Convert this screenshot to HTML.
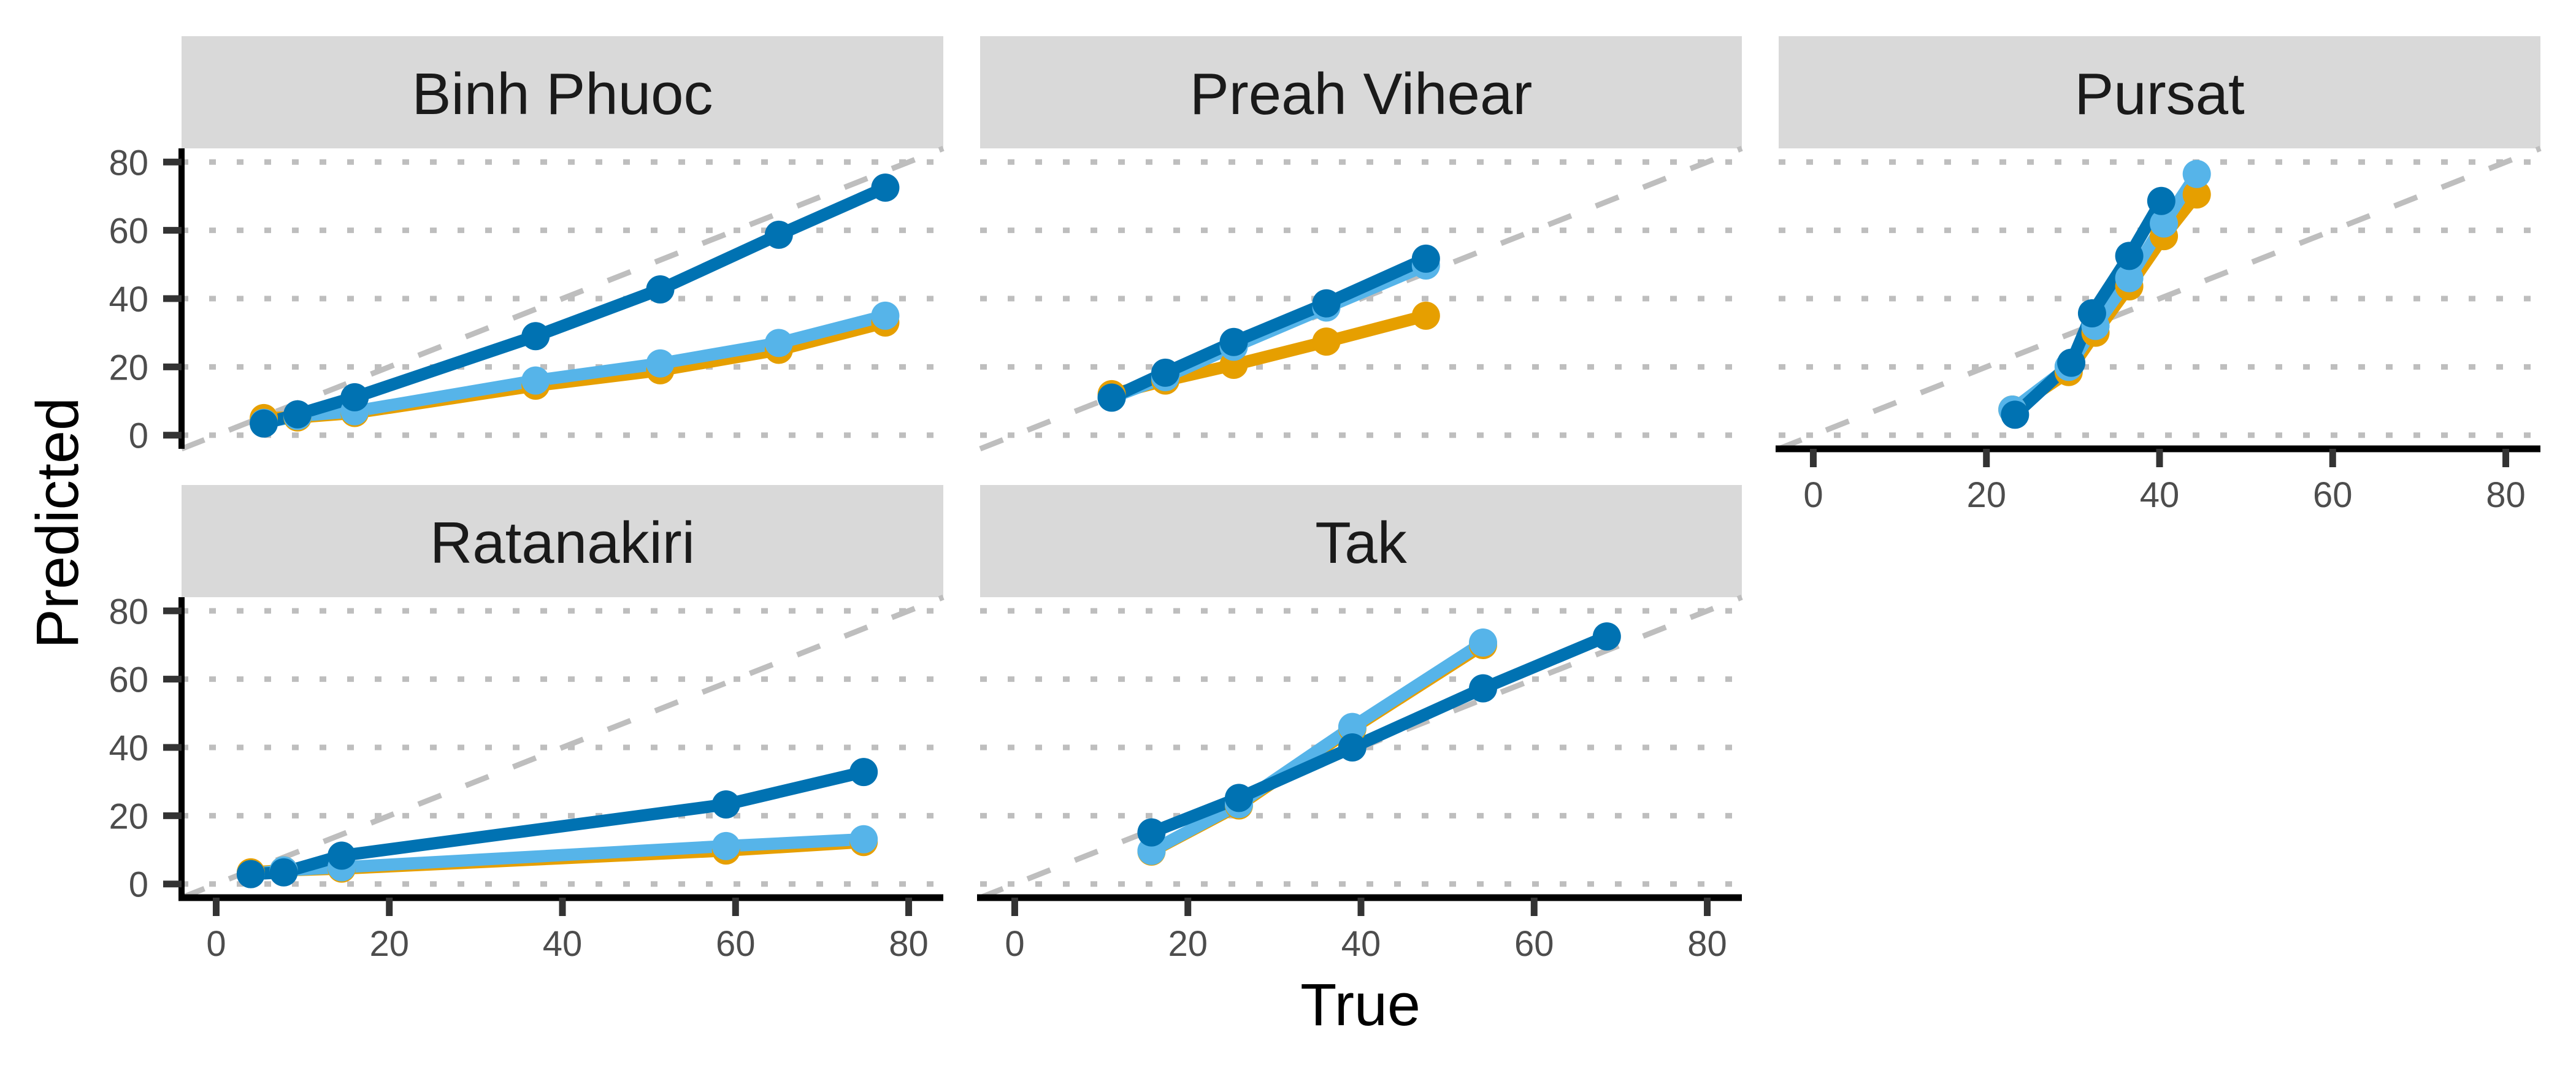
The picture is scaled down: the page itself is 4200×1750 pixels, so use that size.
<!DOCTYPE html>
<html><head><meta charset="utf-8"><style>
html,body{margin:0;padding:0;background:#fff;}
svg{display:block;}
text{font-family:"Liberation Sans",sans-serif;}
</style></head><body>
<svg id="chart" width="4200" height="1750" viewBox="0 0 4200 1750" xmlns="http://www.w3.org/2000/svg">
<rect x="0" y="0" width="4200" height="1750" fill="#fff"/>
<text x="0" y="0" transform="translate(127,853) rotate(-90)" text-anchor="middle" font-size="97" fill="#000">Predicted</text>
<text x="2218" y="1672" text-anchor="middle" font-size="97" fill="#000">True</text>
</svg>
<script>
const tickValues = [0, 20, 40, 60, 80];
const tickLabels = ["0", "20", "40", "60", "80"];
const panelNames = ["Binh Phuoc", "Preah Vihear", "Pursat", "Ratanakiri", "Tak"];
const seriesNames = ["orange", "light-blue", "dark-blue"];

// Binh Phuoc
const bpX = [5.5, 9.4, 16, 36.9, 51.3, 65, 77.3];
const bpOrange = [5, 5.2, 6.5, 14.5, 19, 25, 33];
const bpLight = [3.6, 5.6, 7, 16, 21, 27, 35];
const bpDark = [3.4, 6.1, 11.1, 29, 42.7, 58.7, 72.5];
// Preah Vihear
const pvX = [11.2, 17.4, 25.3, 36, 47.5];
const pvOrange = [12, 16, 20.6, 27.4, 35];
const pvLight = [11, 17, 25.9, 37.4, 49.7];
const pvDark = [11, 18.3, 27.3, 38.6, 51.7];
// Pursat
const puX = [23, 29.5, 32.6, 36.5, 40.5, 44.3];
const puOrange = [7.5, 18.5, 30, 43.6, 58.3, 70.5];
const puLight = [7.5, 20, 32, 46, 62, 76.5];
const puDarkX = [23.3, 29.8, 32.2, 36.5, 40.2];
const puDark = [6, 21.2, 35.7, 52.5, 68.6];
// Ratanakiri
const raX = [4, 7.8, 14.5, 58.9, 74.8];
const raOrange = [3.4, 4, 4.5, 9.8, 12.3];
const raLight = [2.9, 4, 4.9, 11.1, 13.1];
const raDark = [2.9, 3.4, 8.3, 23.3, 32.8];
// Tak
const tkX = [15.8, 25.9, 39, 54.1];
const tkOrange = [9.5, 23, 45.5, 70];
const tkLight = [9.7, 23.4, 46, 70.7];
const tkDarkX = [15.8, 25.9, 39, 54.1, 68.4];
const tkDark = [15.1, 25.2, 40, 57.3, 72.5];

const panelData = [
  {x:[bpX,bpX,bpX], y:[bpOrange,bpLight,bpDark]},
  {x:[pvX,pvX,pvX], y:[pvOrange,pvLight,pvDark]},
  {x:[puX,puX,puDarkX], y:[puOrange,puLight,puDark]},
  {x:[raX,raX,raX], y:[raOrange,raLight,raDark]},
  {x:[tkX,tkX,tkDarkX], y:[tkOrange,tkLight,tkDark]}
];

const NS = "http://www.w3.org/2000/svg";
const svg = document.getElementById("chart");
const colors = ["#E69F00", "#56B4E9", "#0072B2"];
const colLeft = [296, 1598, 2900];
const rowTop = [242, 974];
const PW = 1242, PH = 490, STRIP = 183;
const DMIN = -4, DMAX = 84;
const layout = [[0,0],[0,1],[0,2],[1,0],[1,1]];

function mk(tag, attrs, parent){
  const e = document.createElementNS(NS, tag);
  for (const k in attrs) e.setAttribute(k, attrs[k]);
  (parent || svg).appendChild(e);
  return e;
}

panelNames.forEach((name, i) => {
  const r = layout[i][0], c = layout[i][1];
  const L = colLeft[c], T = rowTop[r];
  const sx = v => L + (v - DMIN) / (DMAX - DMIN) * PW;
  const sy = v => T + PH - (v - DMIN) / (DMAX - DMIN) * PH;
  const slug = name.toLowerCase().replace(/ /g, "-");
  const g = mk("g", {});
  
  

  const strip = mk("rect", {x:L, y:T-STRIP, width:PW, height:STRIP, fill:"#d9d9d9"}, g);
  
  
  const st = mk("text", {x:L+PW/2, y:T-STRIP+127, "text-anchor":"middle", "font-size":96, fill:"#1a1a1a"}, g);
  st.textContent = name;
  
  

  tickValues.forEach(v => {
    const gl = mk("line", {x1:L, x2:L+PW, y1:sy(v), y2:sy(v), stroke:"#bebebe", "stroke-width":9, "stroke-dasharray":"11 34"}, g);
    
    
  });
  const diag = mk("line", {x1:sx(DMIN), y1:sy(DMIN), x2:sx(DMAX), y2:sy(DMAX), stroke:"#bebebe", "stroke-width":9, "stroke-dasharray":"40 43"}, g);
  
  

  const pd = panelData[i];
  for (let s = 0; s < 3; s++) {
    const pts = pd.x[s].map((xv, k) => sx(xv) + "," + sy(pd.y[s][k])).join(" ");
    const pl = mk("polyline", {points:pts, fill:"none", stroke:colors[s], "stroke-width":20, "stroke-linejoin":"round"}, g);
    
    
  }
  for (let s = 0; s < 3; s++) {
    pd.x[s].forEach((xv, k) => {
      const ci = mk("circle", {cx:sx(xv), cy:sy(pd.y[s][k]), r:23, fill:colors[s]}, g);
      
      
    });
  }

  if (c === 0) {
    const ya = mk("line", {x1:L, x2:L, y1:T, y2:T+PH, stroke:"#000", "stroke-width":10}, g);
    
    
    tickValues.forEach((v, k) => {
      const tk = mk("line", {x1:L-30, x2:L, y1:sy(v), y2:sy(v), stroke:"#333", "stroke-width":11}, g);
      
      
      const tl = mk("text", {x:L-54, y:sy(v)+21, "text-anchor":"end", "font-size":58, fill:"#4d4d4d"}, g);
      tl.textContent = tickLabels[k];
      
      
    });
  }
  if (r === 1 || c === 2) {
    const xa = mk("line", {x1:L-5, x2:L+PW, y1:T+PH, y2:T+PH, stroke:"#000", "stroke-width":11}, g);
    
    
    tickValues.forEach((v, k) => {
      const tk = mk("line", {x1:sx(v), x2:sx(v), y1:T+PH, y2:T+PH+30, stroke:"#333", "stroke-width":11}, g);
      
      
      const tl = mk("text", {x:sx(v), y:T+PH+95, "text-anchor":"middle", "font-size":58, fill:"#4d4d4d"}, g);
      tl.textContent = tickLabels[k];
      
      
    });
  }
});
</script>
</body></html>
